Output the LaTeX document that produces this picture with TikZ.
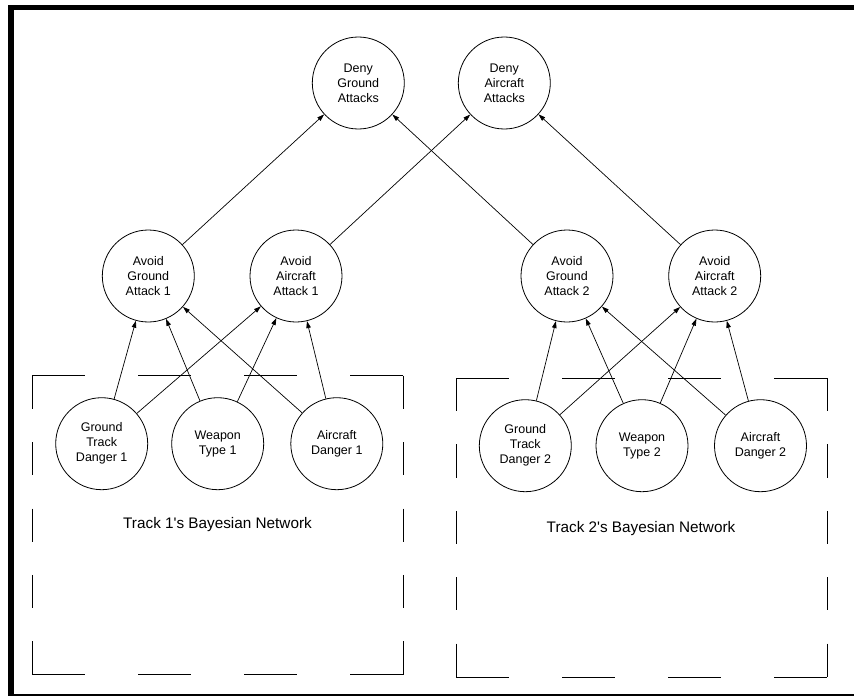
\documentclass[tikz,border=0pt]{standalone}
\usepackage{fontspec}
\setmainfont{Liberation Sans}
\usetikzlibrary{arrows.meta}
\begin{document}
\begin{tikzpicture}[x=1pt,y=-1pt,
  bnode/.style={circle,draw,line width=0.8pt,minimum size=92pt,inner sep=0pt,
    align=center,font=\fontsize{12.5}{15}\selectfont},
  link/.style={line width=0.7pt,-{Triangle[length=7pt,width=4.5pt]}},
  hside/.style={line width=0.9pt,dash pattern=on 53pt off 53pt},
  vside/.style={line width=0.9pt,dash pattern=on 33.2pt off 33.2pt},
  caption/.style={anchor=base,inner sep=0pt,font=\fontsize{15.3}{18}\selectfont}]
\useasboundingbox (0,0) rectangle (854,696);

% heavy outer frame
\draw[line width=5.5pt] (11,7.5) rectangle (900,697);

% dashed group outlines (top/bottom drawn left to right, sides top to bottom)
\draw[hside] (32.3,375.7) -- (403.3,375.7);
\draw[hside] (32.3,674.7) -- (403.3,674.7);
\draw[vside] (32.3,375.7) -- (32.3,674.7);
\draw[vside] (403.3,375.7) -- (403.3,674.7);

\draw[hside] (456,378) -- (827.7,378);
\draw[hside] (456,677) -- (827.7,677);
\draw[vside] (456,378) -- (456,677);
\draw[vside] (827.7,378) -- (827.7,677);

\node[caption] (cap1) at (217.5,528.7) {Track 1\textquotesingle s Bayesian Network};
\node[caption] (cap2) at (641,532.3) {Track 2\textquotesingle s Bayesian Network};

% top level
\node[bnode] (dga) at (358.3,83) {Deny\\Ground\\Attacks};
\node[bnode] (daa) at (504.3,83) {Deny\\Aircraft\\Attacks};

% middle level
\node[bnode] (aga1) at (148.3,276) {Avoid\\Ground\\Attack 1};
\node[bnode] (aaa1) at (296,276) {Avoid\\Aircraft\\Attack 1};
\node[bnode] (aga2) at (567,276) {Avoid\\Ground\\Attack 2};
\node[bnode] (aaa2) at (714.7,276) {Avoid\\Aircraft\\Attack 2};

% track 1 evidence
\node[bnode] (gtd1) at (101.7,443.7) {Ground\\Track\\Danger 1};
\node[bnode] (wt1)  at (217.7,443.7) {Weapon\\Type 1};
\node[bnode] (ad1)  at (336.8,443.7) {Aircraft\\Danger 1};

% track 2 evidence
\node[bnode] (gtd2) at (525.3,445.7) {Ground\\Track\\Danger 2};
\node[bnode] (wt2)  at (642,445.7) {Weapon\\Type 2};
\node[bnode] (ad2)  at (760.5,445.7) {Aircraft\\Danger 2};

% links
\draw[link] (aga1) -- (dga);
\draw[link] (aga2) -- (dga);
\draw[link] (aaa1) -- (daa);
\draw[link] (aaa2) -- (daa);

\foreach \t in {1,2} {
  \draw[link] (gtd\t) -- (aga\t);
  \draw[link] (gtd\t) -- (aaa\t);
  \draw[link] (wt\t) -- (aga\t);
  \draw[link] (wt\t) -- (aaa\t);
  \draw[link] (ad\t) -- (aga\t);
  \draw[link] (ad\t) -- (aaa\t);
}
\end{tikzpicture}
\end{document}
